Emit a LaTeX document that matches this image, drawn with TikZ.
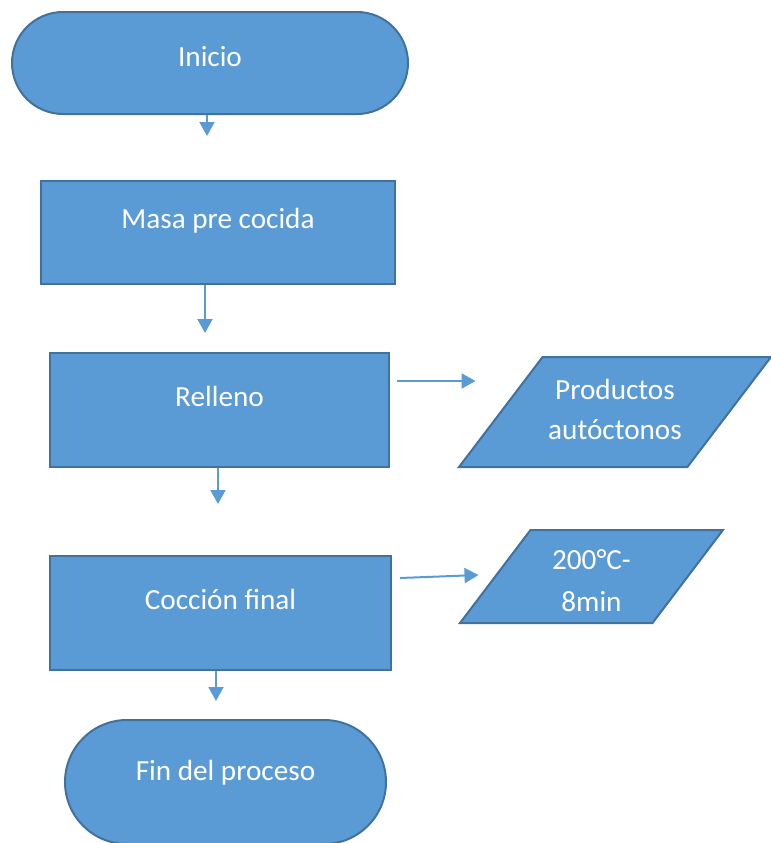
\documentclass[tikz,border=0pt]{standalone}
\usepackage{fontspec}
\setmainfont{Carlito}
\usetikzlibrary{shapes.geometric,arrows.meta}
\definecolor{boxfill}{HTML}{5B9BD5}
\definecolor{boxline}{HTML}{41719C}

\begin{document}
\begin{tikzpicture}[x=0.5pt,y=-0.5pt,
  box/.style={draw=boxline, line width=1pt, fill=boxfill, inner sep=0pt},
  txt/.style={text=white, font=\fontsize{14.6pt}{20pt}\selectfont, align=center},
  txtone/.style={txt, text height=0.7em, text depth=0.2em},
  io/.style={box, inner sep=2pt, trapezium, trapezium left angle=60, trapezium right angle=120, trapezium stretches=true},
  arr/.style={draw=boxfill, line width=1pt, -{Triangle[width=7.5pt,length=7pt]}}]

\useasboundingbox (0,0) rectangle (771,843);
\clip (0,0) rectangle (771,843);

% Start
\node[box, minimum width=198pt, minimum height=51pt, rounded corners=25.5pt,
  label={[txtone,yshift=0.75pt]center:Inicio}] (inicio) at (210,63){};

% Process boxes
\node[box, minimum width=177pt, minimum height=51.5pt,
  label={[txtone,yshift=4.5pt]center:Masa pre cocida}] (masa) at (218,232.5){};
\node[box, minimum width=169.5pt, minimum height=57pt,
  label={[txtone,yshift=4.5pt]center:Relleno}] (relleno) at (219.5,410){};
\node[box, minimum width=170.5pt, minimum height=57pt,
  label={[txtone,yshift=4.5pt]center:Cocción final}] (coccion) at (220.5,613){};

% End (cut at the bottom edge)
\node[box, minimum width=160.5pt, minimum height=62pt, rounded corners=31pt,
  label={[txtone,yshift=3.5pt]center:Fin del proceso}] (fin) at (225.5,782){};

% Inputs
\node[io, minimum width=156pt, minimum height=55pt,
  label={[txt,yshift=1.5pt]center:Productos\\autóctonos}] (productos) at (615,412){};
\node[io, minimum width=131.5pt, minimum height=46.5pt,
  label={[txt,yshift=-2.25pt,font=\fontsize{14.6pt}{21pt}\selectfont]center:200°C-\\8min}] (param) at (591.5,576.5){};

% Arrows
\draw[arr, shorten >=22pt] ([xshift=-1.5pt]inicio.south) -- ([xshift=-1.5pt]inicio.south |- masa.north);
\draw[arr, shorten >=9.5pt] ([xshift=-6.5pt]masa.south) -- ([xshift=-6.5pt]masa.south |- relleno.north);
\draw[arr, shorten >=25.5pt] ([xshift=-0.75pt]relleno.south) -- ([xshift=-0.75pt]relleno.south |- coccion.north);
\draw[arr, shorten >=9pt] ([xshift=-2.25pt]coccion.south) -- ([xshift=-2.25pt]coccion.south |- fin.north);
\draw[arr, shorten >=15.5pt] ([shift={(3.5pt,14.5pt)}]relleno.east) -- ([shift={(3.5pt,14.5pt)}]relleno.east -| productos.west);
\draw[arr] ([shift={(4pt,17.5pt)}]coccion.east) -- ([shift={(-7.75pt,0.75pt)}]param.west);

\end{tikzpicture}
\end{document}
